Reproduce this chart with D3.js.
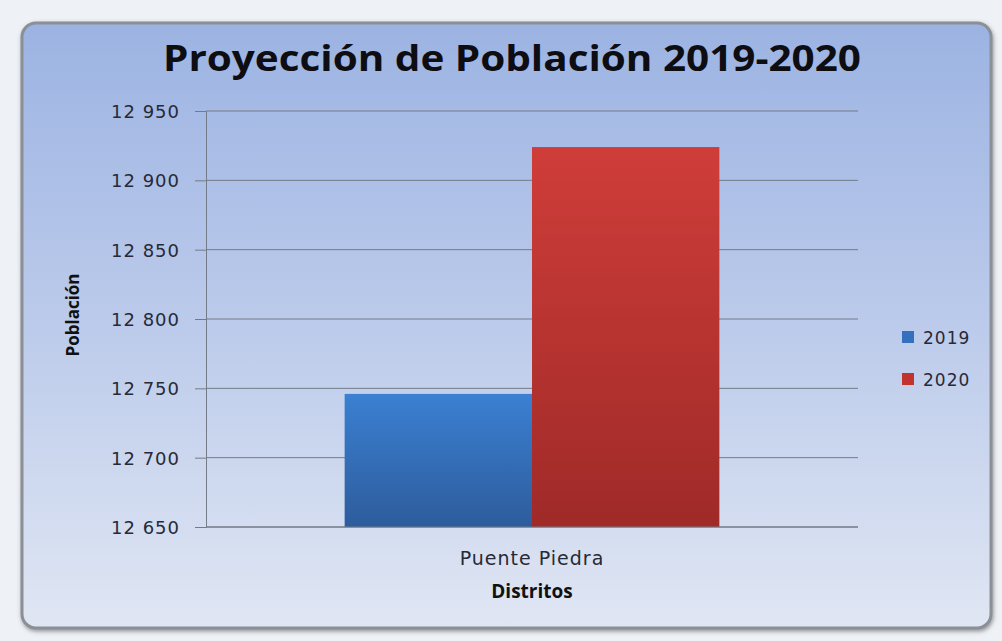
<!DOCTYPE html>
<html lang="es">
<head>
<meta charset="UTF-8">
<title>Proyección de Población 2019-2020</title>
<style>
    body { margin: 0; padding: 0; background: #eef1f6; }
    svg { display: block; }
    text { font-family: "DejaVu Sans", sans-serif; }
</style>
</head>
<body>
<div id="chart"></div>
<script src="https://d3js.org/d3.v7.min.js"></script>
<script>
    const categories = ["Puente Piedra"];
    const seriesNames = ["2019", "2020"];
    const values2019 = [12746];
    const values2020 = [12924];
    const yTicks = [12650, 12700, 12750, 12800, 12850, 12900, 12950];

    const width = 1002;
    const height = 641;
    const margin = { top: 111, right: 144, bottom: 114, left: 206 };

    const svg = d3.select("#chart")
        .append("svg")
        .attr("width", width)
        .attr("height", height);

    const defs = svg.append("defs");

    const bg = defs.append("linearGradient").attr("id", "bg").attr("x1", 0).attr("y1", 0).attr("x2", 0).attr("y2", 1);
    bg.append("stop").attr("offset", "0%").attr("stop-color", "#9cb3e2");
    bg.append("stop").attr("offset", "50%").attr("stop-color", "#bccbeb");
    bg.append("stop").attr("offset", "100%").attr("stop-color", "#e0e6f3");

    const blueGrad = defs.append("linearGradient").attr("id", "blueGrad").attr("x1", 0).attr("y1", 0).attr("x2", 0).attr("y2", 1);
    blueGrad.append("stop").attr("offset", "0%").attr("stop-color", "#3b80d2");
    blueGrad.append("stop").attr("offset", "100%").attr("stop-color", "#2d5c9c");

    const redGrad = defs.append("linearGradient").attr("id", "redGrad").attr("x1", 0).attr("y1", 0).attr("x2", 0).attr("y2", 1);
    redGrad.append("stop").attr("offset", "0%").attr("stop-color", "#cf3d39");
    redGrad.append("stop").attr("offset", "100%").attr("stop-color", "#9f2a28");

    const shadow = defs.append("filter").attr("id", "shadow").attr("x", "-5%").attr("y", "-5%").attr("width", "110%").attr("height", "110%");
    shadow.append("feDropShadow").attr("dx", 1).attr("dy", 2).attr("stdDeviation", 2).attr("flood-color", "#555").attr("flood-opacity", 0.6);

    // chart frame
    svg.append("rect")
        .attr("x", 22).attr("y", 23)
        .attr("width", 969).attr("height", 605)
        .attr("rx", 14)
        .attr("fill", "url(#bg)")
        .attr("stroke", "#8a8f98")
        .attr("stroke-width", 3)
        .attr("filter", "url(#shadow)");

    const x0 = d3.scaleBand()
        .domain(categories)
        .range([margin.left, width - margin.right])
        .paddingInner(0)
        .paddingOuter(0.37);

    const x1 = d3.scaleBand()
        .domain(seriesNames)
        .range([0, x0.bandwidth()])
        .padding(0);

    const y = d3.scaleLinear()
        .domain([12650, 12950])
        .range([height - margin.bottom, margin.top]);

    // gridlines
    svg.append("g")
        .selectAll("line")
        .data(yTicks)
        .enter()
        .append("line")
        .attr("x1", margin.left)
        .attr("x2", width - margin.right)
        .attr("y1", d => y(d))
        .attr("y2", d => y(d))
        .attr("stroke", "#737b88")
        .attr("stroke-width", 1);

    const fmt = d => d3.format(",")(d).replace(",", " ");

    const yAxis = svg.append("g")
        .attr("transform", `translate(${margin.left},0)`)
        .call(d3.axisLeft(y).tickValues(yTicks).tickFormat(fmt).tickSize(11).tickPadding(15));
    yAxis.select(".domain").attr("stroke", "#737b88");
    yAxis.selectAll(".tick line").attr("stroke", "#737b88");
    yAxis.selectAll("text")
        .attr("fill", "#262a38")
        .attr("dy", "0.36em")
        .style("font-size", "18px")
        .style("letter-spacing", "1px")
        .style("font-family", "'DejaVu Sans', sans-serif");

    const seriesData = [
        { name: "2019", values: values2019, fill: "url(#blueGrad)", swatch: "#3470bd" },
        { name: "2020", values: values2020, fill: "url(#redGrad)", swatch: "#c0332f" }
    ];

    const groups = svg.append("g")
        .selectAll("g")
        .data(categories)
        .enter()
        .append("g")
        .attr("transform", d => `translate(${x0(d)},0)`);

    groups.selectAll("rect")
        .data((d, i) => seriesData.map(s => ({ name: s.name, value: s.values[i], fill: s.fill })))
        .enter()
        .append("rect")
        .attr("x", d => x1(d.name))
        .attr("width", x1.bandwidth())
        .attr("y", d => y(d.value))
        .attr("height", d => y(12650) - y(d.value))
        .attr("fill", d => d.fill);

    // x axis baseline
    svg.append("line")
        .attr("x1", margin.left).attr("x2", width - margin.right)
        .attr("y1", y(12650)).attr("y2", y(12650))
        .attr("stroke", "#737b88");

    // category labels
    svg.append("g")
        .selectAll("text")
        .data(categories)
        .enter()
        .append("text")
        .attr("x", d => x0(d) + x0.bandwidth() / 2)
        .attr("y", 565)
        .attr("text-anchor", "middle")
        .attr("fill", "#262a38")
        .style("font-size", "19px")
        .style("letter-spacing", "1px")
        .text(d => d);

    // title
    svg.append("text")
        .attr("x", 512)
        .attr("y", 71)
        .attr("text-anchor", "middle")
        .attr("fill", "#0d0d12")
        .attr("textLength", 698)
        .attr("lengthAdjust", "spacingAndGlyphs")
        .style("font-size", "36px")
        .style("font-weight", "bold")
        .style("font-family", "'Open Sans', sans-serif")
        .text("Proyección de Población 2019-2020");

    // axis titles
    svg.append("text")
        .attr("x", 532)
        .attr("y", 598)
        .attr("text-anchor", "middle")
        .attr("fill", "#111")
        .style("font-size", "19px")
        .style("font-weight", "bold")
        .style("font-family", "'Open Sans', sans-serif")
        .text("Distritos");

    svg.append("text")
        .attr("transform", `translate(79,315) rotate(-90)`)
        .attr("text-anchor", "middle")
        .attr("fill", "#111")
        .style("font-size", "17px")
        .style("font-weight", "bold")
        .style("font-family", "'Open Sans', sans-serif")
        .text("Población");

    // legend
    const legend = svg.append("g")
        .selectAll("g")
        .data(seriesData)
        .enter()
        .append("g")
        .attr("transform", (d, i) => `translate(902,${331 + i * 42})`);

    legend.append("rect")
        .attr("width", 12).attr("height", 12)
        .attr("fill", d => d.swatch);

    legend.append("text")
        .attr("x", 21)
        .attr("y", 13)
        .attr("fill", "#262a38")
        .style("font-size", "17px")
        .style("letter-spacing", "1px")
        .text(d => d.name);
</script>
</body>
</html>
